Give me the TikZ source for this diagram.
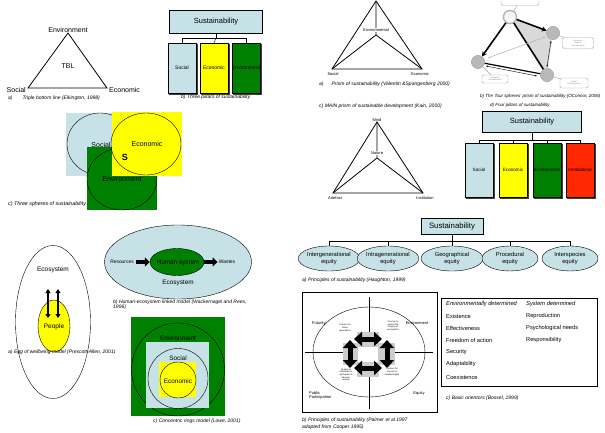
\documentclass[tikz,border=0pt]{standalone}
\usepackage{fontspec}
\setmainfont{Liberation Sans}
\usetikzlibrary{arrows.meta,shapes.geometric,calc}
\definecolor{lb}{RGB}{198,226,230}
\definecolor{yel}{RGB}{255,255,0}
\definecolor{grn}{RGB}{0,128,0}
\definecolor{rd}{RGB}{255,40,0}
\newcommand{\myfs}[1]{\fontsize{#1}{#1}\selectfont}
\tikzset{
  captxt/.style={font=\myfs{5}\itshape, anchor=west, inner sep=0pt, align=left},
  lbl/.style={font=\myfs{7}, inner sep=0pt},
  prlbl/.style={font=\myfs{4}, inner sep=0pt},
  tinylbl/.style={font=\fontsize{2.2}{2.6}\selectfont, inner sep=0pt, align=center},
  pillar/.style={draw, minimum width=28pt, minimum height=50pt, inner sep=0pt, font=\myfs{5}},
  pillarb/.style={draw, minimum width=28pt, minimum height=54pt, inner sep=0pt, font=\myfs{4.6}},
  susbox/.style={draw, fill=lb, inner sep=0pt, font=\myfs{7.5}},
  eqell/.style={draw, ellipse, fill=lb, inner sep=0pt, minimum width=56pt, minimum height=25pt, align=center, font=\fontsize{5.8}{6.6}\selectfont},
  bigarrow/.style={line width=5pt, {Triangle[length=8pt,width=14pt]}-{Triangle[length=8pt,width=14pt]}},
  sphcirc/.style={circle, draw=gray!70, fill=gray!55, minimum size=13pt, inner sep=0pt},
  callout/.style={draw=gray!70, rounded corners=1.5pt, fill=white, inner sep=1pt, align=center, font=\fontsize{2}{2.4}\selectfont, text=gray},
  tblt/.style={font=\myfs{5.7}, anchor=west, inner sep=0pt},
  pshadow/.style={black!75, line width=0.7pt}
}
\begin{document}
\begin{tikzpicture}[x=1pt,y=-1pt]
\useasboundingbox (0,0) rectangle (605,433);
\fill[white] (0,0) rectangle (605,433);

% ---------- a) TBL
\coordinate (tA) at (68,33); \coordinate (tB) at (28,88); \coordinate (tC) at (107,88);
\draw[line width=0.8pt] (tA) -- (tB) -- (tC) -- cycle;
\node[lbl, anchor=south] (tEnv) at (68,32.5) {Environment};
\node[lbl] (tTBL) at (68,66) {TBL};
\node[lbl, anchor=east] (tSoc) at (26,90) {Social};
\node[lbl, anchor=west] (tEco) at (109,90) {Economic};
\node[captxt] (capA1) at (8,98.5) {a)\hspace{10pt}Triple bottom line (Elkington, 1998)};

% ---------- b) Three pillars
\node[susbox, minimum width=93pt, minimum height=23pt] (sus1) at (216,22) {Sustainability};
\node[pillar, fill=lb] (s1) at (182,68) {Social};
\node[pillar, fill=yel] (e1) at (214,68) {Economic};
\node[pillar, fill=grn] (n1) at (246,68) {Environment};
\draw (sus1.south) -- ++(0,4.5) coordinate (j1);
\draw (j1) -| (s1.north); \draw (j1) -| (n1.north); \draw (j1) -- (e1.north);
\node[captxt] (capB1) at (181,97) {b) Three pillars of sustainability};

% ---------- c) Three spheres
\fill[lb] (66,113) rectangle (112,176);
\draw (100,144) ellipse [x radius=33, y radius=31];
\node[lbl] (cSoc) at (101,145) {Social};
\fill[grn] (87,147) rectangle (157,210);
\draw (122,179) ellipse [x radius=35, y radius=31];
\node[lbl] (cEnv) at (122,179) {Environment};
\fill[yel] (111.5,112) rectangle (182,176);
\draw (146,144) ellipse [x radius=35, y radius=31];
\node[lbl] (cEco) at (147,144) {Economic};
\node[font=\myfs{9}\bfseries, inner sep=0pt] (cS) at (125,157) {S};
\node[captxt, font=\myfs{5.3}\itshape] (capC1) at (8,204) {c) Three spheres of sustainability};

% ---------- a) Prism (Valentin & Spangenberg)
\coordinate (pA) at (376,1); \coordinate (pB) at (332,69); \coordinate (pC) at (422,69); \coordinate (pO) at (376,35);
\draw[line width=0.8pt] (pA) -- (pB) -- (pC) -- cycle;
\draw[line width=0.8pt] (pA) -- (pO) (pB) -- (pO) (pC) -- (pO);
\node[prlbl, fill=white, inner sep=0.3pt] (pEnv) at (376,30) {Environmental};
\node[prlbl] (pSoc) at (333,74) {Social};
\node[prlbl] (pEco) at (420,74) {Economic};
\node[captxt] (capPa) at (319,84) {a)\hspace{8pt}Prism of sustainability (Valentin \&Spangenberg 2000)};
\node[captxt] (capPc) at (319,106) {c) MAIN prism of sustainable development (Kain, 2000)};

% ---------- b) Four spheres prism (O'Connor)
\node[sphcirc, fill=gray!8, draw=gray!60, line width=1.2pt] (fT) at (510,17) {};
\node[sphcirc] (fR) at (553,33) {};
\node[sphcirc] (fL) at (478,62) {};
\node[sphcirc] (fB) at (547,75) {};
\fill[gray!30] (fT.center) -- (fR.center) -- (fB.center) -- cycle;
\node[sphcirc, fill=gray!8, draw=gray!60, line width=1.2pt] at (510,17) {};
\draw[line width=1.6pt, -{Stealth[length=5pt,width=5pt]}] (fT) -- (fL);
\draw[line width=1.6pt, -{Stealth[length=5pt,width=5pt]}] (fT) -- (fR);
\draw[line width=1.6pt] (fT) -- (fB);
\draw[line width=1.2pt] (fL) -- (fB);
\draw[gray!60, line width=0.5pt, {Stealth[length=2pt]}-{Stealth[length=2pt]}] ($(fL)+(10,-4)$) -- ($(fR)+(-8,4)$);
\draw[line width=0.4pt, {Stealth[length=2pt]}-{Stealth[length=2pt]}] ($(fR)+(-2,8)$) -- ($(fB)+(0,-8)$);
\draw[line width=0.4pt, {Stealth[length=2pt]}-{Stealth[length=2pt]}] ($(fL)+(8,4)$) -- ($(fB)+(-10,1)$);
\node[sphcirc] at (553,33) {};
\node[sphcirc] at (478,62) {};
\node[sphcirc] at (547,75) {};
\node[callout, minimum width=38pt, minimum height=9pt] (cbT) at (520,1) {};
\node[callout, minimum width=31pt, minimum height=11pt] (cbR) at (578,43) {Economic\\Sphere\\Considerations};
\node[callout, minimum width=26pt, minimum height=8pt] (cbL) at (495,79) {Economic\\Considerations};
\node[callout, minimum width=28pt, minimum height=10pt] (cbB) at (574,83) {Social\\Considerations};
\draw[gray!70] (fT) -- (cbT); \draw[gray!70] (fR) -- (cbR); \draw[gray!70] (fL) -- (cbL); \draw[gray!70] (fB) -- (cbB);
\node[captxt, font=\myfs{4.5}\itshape] (capFb) at (480,96) {b) The `four spheres' prism of sustainability (OConnor, 2006)};
\node[captxt, font=\myfs{4.5}\itshape] (capFd) at (490,105) {d) Four pillars of sustainability};

% ---------- c) MAIN prism
\coordinate (mA) at (377,122); \coordinate (mB) at (333,193); \coordinate (mC) at (423,193); \coordinate (mO) at (377,158);
\draw[line width=0.8pt] (mA) -- (mB) -- (mC) -- cycle;
\draw[line width=0.8pt] (mA) -- (mO) (mB) -- (mO) (mC) -- (mO);
\node[prlbl, anchor=south] (mMind) at (377,121.5) {Mind};
\node[prlbl, fill=white, inner sep=0.3pt] (mNat) at (377,153) {Nature};
\node[prlbl] (mArt) at (335,198) {Artefact};
\node[prlbl] (mInst) at (425,198) {Institution};

% ---------- d) Four pillars
\node[susbox, minimum width=99pt, minimum height=21pt] (sus2) at (532,122) {Sustainability};
\node[pillarb, fill=lb] (s2) at (479,170) {Social};
\node[pillarb, fill=yel] (e2) at (513,170) {Economic};
\node[pillarb, fill=grn] (n2) at (547,170) {Environment};
\node[pillarb, fill=rd] (i2) at (580,170) {Institutional};
\draw (sus2.south) -- ++(0,7.5) coordinate (j2);
\draw (j2) -| (s2.north); \draw (j2) -| (e2.north); \draw (j2) -| (n2.north); \draw (j2) -| (i2.north);
\foreach \p in {s1,e1,n1,s2,e2,n2,i2} {
  \draw[pshadow] ($(\p.north east)+(0.7,1.2)$) -- ($(\p.south east)+(0.7,0.7)$) -- ($(\p.south west)+(1.2,0.7)$);
}

% ---------- a) Egg of wellbeing
\node[draw, ellipse, minimum width=75pt, minimum height=153pt, inner sep=0pt] (egg) at (53,322) {};
\node[lbl, font=\myfs{6.5}] (eEco) at (53,270) {Ecosystem};
\node[draw, ellipse, fill=yel, minimum width=32pt, minimum height=52pt, inner sep=0pt, font=\myfs{6.5}] (ePeo) at (54,326) {};
\node[lbl, font=\myfs{6.5}] (ePeoT) at (54,327) {People};
\coordinate (ea1) at (48,289); \coordinate (ea2) at (48,318);
\coordinate (eb1) at (58,289); \coordinate (eb2) at (58,318);
\draw[line width=1.3pt, {Triangle[length=4pt,width=5pt]}-{Triangle[length=4pt,width=5pt]}] (ea1) -- (ea2);
\draw[line width=1.3pt, {Triangle[length=4pt,width=5pt]}-{Triangle[length=4pt,width=5pt]}] (eb1) -- (eb2);
\node[captxt] (capEgg) at (8,352) {a) Egg of wellbeing model (Prescott-Allen, 2001)};

% ---------- b) Human-ecosystem
\node[draw, ellipse, fill=lb, minimum width=147pt, minimum height=74pt, inner sep=0pt] (hEco) at (178,262) {};
\node[draw, ellipse, fill=grn, minimum width=54pt, minimum height=27pt, inner sep=0pt] (hSys) at (177,262) {};
\node[lbl, font=\myfs{6.4}] (hSysT) at (178,263) {Human system};
\node[lbl, font=\myfs{6.4}] (hEcoT) at (178,283) {Ecosystem};
\node[lbl, font=\myfs{4.9}] (hRes) at (122,262) {Resources};
\node[lbl, font=\myfs{5}] (hWas) at (227,262) {Wastes};
\draw[line width=4pt, -{Triangle[length=5pt,width=9pt]}] (hRes.east) ++(2,0) -- (hSys.west);
\draw[line width=4pt, -{Triangle[length=5pt,width=9pt]}] (hSys.east) -- ($(hWas.west)+(-1,0)$);
\node[captxt] (capH) at (113,305) {b) Human-ecosystem linked model (Wackernagel and Rees,\\1996)};

% ---------- c) Concentric rings
\fill[grn] (131,317) rectangle (225,416);
\draw (178,369.5) circle [radius=46.5];
\fill[lb] (146,342) rectangle (209,408);
\draw (178,378.5) circle [radius=30];
\fill[yel] (159,362) rectangle (196,397);
\draw (178,380) circle [radius=18];
\node[lbl, font=\myfs{6.4}] (rEnv) at (178,338) {Environment};
\node[lbl, font=\myfs{6.4}] (rSoc) at (178,358) {Social};
\node[lbl, font=\myfs{6.4}] (rEco) at (178,381) {Economic};
\node[captxt] (capR) at (153,421) {c) Concentric rings model (Lowe, 2001)};

% ---------- a) Principles of sustainability (Haughton)
\node[susbox, minimum width=62pt, minimum height=16pt, font=\myfs{7.8}] (sus3) at (452,226) {Sustainability};
\node[eqell] (q1) at (329,258.5) {Intergenerational\\equity};
\node[eqell] (q2) at (388,258.5) {Intragenerational\\equity};
\node[eqell, minimum width=62pt] (q3) at (452,258.5) {Geographical\\equity};
\node[eqell] (q4) at (510,258.5) {Procedural\\equity};
\node[eqell] (q5) at (570,258.5) {Interspecies\\equity};
\draw (sus3.south) -- ++(0,7) coordinate (j3);
\draw (j3) -| (q1.north); \draw (j3) -| (q2.north); \draw (j3) -- (q3.north); \draw (j3) -| (q4.north); \draw (j3) -| (q5.north);
\node[captxt] (capQ) at (302,280) {a) Principles of sustainability (Haughton, 1999)};

% ---------- b) Principles (Palmer / Cooper)
\draw[line width=1pt] (302,292) rectangle (437,412);
\draw (369,352) ellipse [x radius=56, y radius=45];
\coordinate (vT) at (369,297); \coordinate (vB) at (369,409);
\coordinate (hL) at (305,352); \coordinate (hR) at (433,352);
\draw[line width=0.7pt] (vT) -- (vB); \draw[line width=0.7pt] (hL) -- (hR);
\fill[gray!40] (357,332) rectangle (379,347);
\fill[gray!40] (343,343) rectangle (358,365);
\fill[gray!40] (377,343) rectangle (395,365);
\fill[gray!40] (357,362) rectangle (379,377);
\fill[white] (358,347) rectangle (378,362);
\coordinate (aT1) at (354,339); \coordinate (aT2) at (382,339);
\coordinate (aB1) at (354,368); \coordinate (aB2) at (382,368);
\coordinate (aL1) at (350,340); \coordinate (aL2) at (350,368);
\coordinate (aR1) at (387,340); \coordinate (aR2) at (387,368);
\draw[bigarrow] (aT1) -- (aT2);
\draw[bigarrow] (aB1) -- (aB2);
\draw[bigarrow] (aL1) -- (aL2);
\draw[bigarrow] (aR1) -- (aR2);
\node[tinylbl] (pFut) at (345,328) {Concern for\\future\\generations};
\node[tinylbl] (pEnvC) at (393,326) {Concern to\\protect the\\integrity of\\ecosystems};
\node[tinylbl] (pPart) at (346,375) {Enable all\\individuals to\\participate in\\decision\\making};
\node[tinylbl] (pEqC) at (392,372) {Concern for\\the poor \&\\disadvantaged};
\node[font=\myfs{4}, anchor=west, inner sep=0pt] (lFut) at (312,323) {Futurity};
\node[font=\myfs{4}, inner sep=0pt] (lEnv) at (417,323) {Environment};
\node[font=\myfs{4}, anchor=west, inner sep=0pt, align=left] (lPub) at (309,395) {Public\\Participation};
\node[font=\myfs{4}, inner sep=0pt] (lEq) at (419,393) {Equity};
\node[captxt, font=\fontsize{5}{7}\selectfont\itshape] (capP) at (302,424) {b) Principles of sustainability (Palmer et al 1997\\adapted from Cooper 1995)};

% ---------- c) Basic orientors
\draw[line width=0.8pt] (441,298) rectangle (597,386);
\node[tblt, font=\myfs{5.7}\itshape] (o0a) at (446,304) {Environmentally determined};
\node[tblt, font=\myfs{5.7}\itshape] (o0b) at (526,304) {System determined};
\node[tblt] (o1a) at (446,316) {Existence};
\node[tblt] (o1b) at (526,316) {Reproduction};
\node[tblt] (o2a) at (446,328) {Effectiveness};
\node[tblt] (o2b) at (526,328) {Psychological needs};
\node[tblt] (o3a) at (446,340) {Freedom of action};
\node[tblt] (o3b) at (526,340) {Responsibility};
\node[tblt] (o4a) at (446,352) {Security};
\node[tblt] (o5a) at (446,364) {Adaptability};
\node[tblt] (o6a) at (446,377) {Coexistence};
\node[captxt] (capO) at (446,398) {c) Basic orientors (Bossel, 1999)};
\end{tikzpicture}
\end{document}
